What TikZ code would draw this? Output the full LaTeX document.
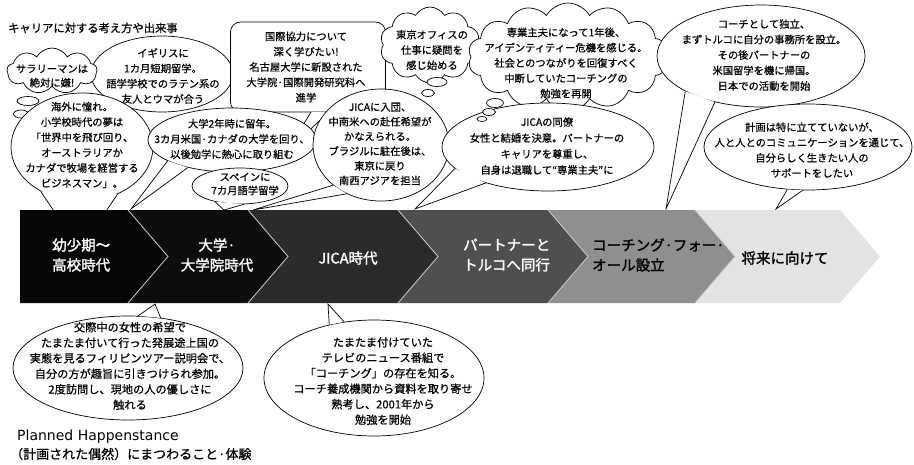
\documentclass[tikz,border=0pt]{standalone}
\usepackage{fontspec}
\setmainfont{Noto Sans CJK JP}[FakeBold=0.6]
\newfontfamily\latfont{DejaVu Sans}
\newfontfamily\erafont{Noto Sans CJK JP}[FakeBold=1.6]
\usetikzlibrary{shapes.geometric,shapes.symbols}
\newcommand\balltail[3]{\fill[white] (#1) -- (#2) -- (#3) -- cycle; \draw[tailline] (#1) -- (#2) -- (#3);}
\begin{document}
\begin{tikzpicture}[x=1pt,y=-1pt,
  bal/.style={ellipse, draw=black, fill=white, line width=0.7pt, inner sep=0pt},
  boxbal/.style={rectangle, rounded corners=10pt, draw=black, fill=white, line width=0.7pt, inner sep=0pt},
  thought/.style={cloud, cloud puffs=#1, cloud puff arc=120, cloud ignores aspect, draw=black, fill=white, line width=0.7pt, inner sep=0pt},
  bub/.style={ellipse, draw=black, fill=white, line width=0.7pt, inner sep=0pt},
  tailline/.style={draw=black, line width=0.7pt, line join=miter},
  txt/.style={align=center, inner sep=0pt, font=\fontsize{10.3}{15.3}\selectfont},
  btxt/.style={align=center, inner sep=0pt, font=\fontsize{11.2}{15.5}\selectfont},
  era/.style={inner sep=0pt, font=\erafont\fontsize{14.5}{20}\selectfont},
  sep/.style={draw=white!80!black, line width=0.8pt},
]
\useasboundingbox[fill=white] (0,0) rectangle (914,464);

\node[anchor=west, inner sep=0pt, font=\fontsize{11.3}{14}\selectfont] (head) at (8,28) {キャリアに対する考え方や出来事};

% England balloon
\node[bal, minimum width=142pt, minimum height=76pt] (igi) at (162,74) {};
\node[txt] (igit) at (163,76) {イギリスに\\1カ月短期留学。\\語学学校でのラテン系の\\友人とウマが合う};

% salaryman thought
\node[thought=9, minimum width=90pt, minimum height=46pt] (sal) at (52,71) {};
\node[txt, font=\fontsize{10.3}{14}\selectfont] (salt) at (52,76) {サラリーマンは\\絶対に嫌!};
\node[bub, minimum width=22pt, minimum height=9pt] (salb1) at (28,101) {};
\node[bub, minimum width=15pt, minimum height=8pt] (salb2) at (21,114) {};

% overseas dream
\coordinate (kaitip) at (80,250);
\node[bal, minimum width=142pt, minimum height=108pt] (kai) at (82,147) {};
\balltail{kai.227}{kaitip}{kai.307}
\node[txt] (kait) at (82,145) {海外に憧れ。\\小学校時代の夢は\\「世界中を飛び回り、\\オーストラリアか\\カナダで牧場を経営する\\ビジネスマン」。};

% international cooperation box
\node[boxbal, minimum width=155pt, minimum height=90pt] (box) at (308,67) {};
\coordinate (boxb1) at (311,112);
\coordinate (boxb2) at (329,112);
\coordinate (boxtip) at (288,150);
\balltail{boxb1}{boxtip}{boxb2}
\node[txt] (boxt) at (306,67) {国際協力について\\深く学びたい!\\名古屋大学に新設された\\大学院·国際開発研究科へ\\進学};

% university 2nd year
\coordinate (dtip) at (131,209);
\node[bal, minimum width=168pt, minimum height=64pt] (dai) at (232,140) {};
\balltail{dai.198}{dtip}{dai.212}
\node[txt] (dait) at (232,139) {大学2年時に留年。\\3カ月米国·カナダの大学を回り、\\以後勉学に熱心に取り組む};

% Spain
\coordinate (sptip) at (224,210);
\node[bal, minimum width=96pt, minimum height=36pt] (spa) at (240,186) {};
\balltail{spa.212}{sptip}{spa.282}
\node[txt, font=\fontsize{10.3}{13.5}\selectfont] (spat) at (245,184) {スペインに\\7カ月語学留学};

% JICA
\coordinate (jtip) at (253,210);
\node[bal, minimum width=136pt, minimum height=112pt] (jica) at (381,145) {};
\balltail{jica.220}{jtip}{jica.235}
\node[txt, font=\fontsize{10.3}{14.7}\selectfont] (jicat) at (380,144) {JICAに入団、\\中南米への赴任希望が\\かなえられる。\\ブラジルに駐在後は、\\東京に戻り\\南西アジアを担当};

% Tokyo office thought
\node[thought=10, minimum width=100pt, minimum height=76pt] (tok) at (430,45) {};
\node[txt] (tokt) at (432,50) {東京オフィスの\\仕事に疑問を\\感じ始める};
\node[bub, minimum width=20pt, minimum height=9pt] (tokb1) at (437,82) {};
\node[bub, minimum width=13pt, minimum height=7pt] (tokb2) at (428,93) {};

% house-husband thought
\node[thought=14, minimum width=200pt, minimum height=108pt] (sen) at (568,57) {};
\node[txt] (sent) at (566,63) {専業主夫になって1年後、\\アイデンティティー危機を感じる。\\社会とのつながりを回復すべく\\中断していたコーチングの\\勉強を再開};

% JICA colleague
\coordinate (dotip) at (415,209);
\node[bal, minimum width=212pt, minimum height=88pt] (dor) at (548,147) {};
\balltail{dor.193}{dotip}{dor.210}
\node[txt, font=\fontsize{10.3}{16}\selectfont] (dort) at (547,146) {JICAの同僚\\女性と結婚を決意。パートナーの\\キャリアを尊重し、\\自身は退職して“専業主夫”に};
\node[bub, minimum width=17pt, minimum height=9pt] (senb1) at (495,103) {};
\node[bub, minimum width=13pt, minimum height=7pt] (senb2) at (489,112) {};
\node[bub, minimum width=10pt, minimum height=5pt] (senb3) at (482,119) {};

% coach independent
\coordinate (ctip) at (666,209);
\node[bal, minimum width=208pt, minimum height=102pt] (coa) at (761,56) {};
\balltail{coa.205}{ctip}{coa.225}
\node[txt, font=\fontsize{10.3}{15.5}\selectfont] (coat) at (764,55) {コーチとして独立、\\まずトルコに自分の事務所を設立。\\その後パートナーの\\米国留学を機に帰国。\\日本での活動を開始};

% future
\coordinate (ktip) at (776,209);
\node[bal, minimum width=208pt, minimum height=86pt] (kei) at (808,147) {};
\balltail{kei.244}{ktip}{kei.263}
\node[txt] (keit) at (812,150) {計画は特に立てていないが、\\人と人とのコミュニケーションを通じて、\\自分らしく生きたい人の\\サポートをしたい};

% ---- band ----
\fill[black!98] (20,210) -- (128,210) -- (168,256.5) -- (128,303) -- (20,303) -- cycle;
\fill[black!95] (128,210) -- (248,210) -- (288,256.5) -- (248,303) -- (128,303) -- (168,256.5) -- cycle;
\fill[black!83] (248,210) -- (398,210) -- (438,256.5) -- (398,303) -- (248,303) -- (288,256.5) -- cycle;
\fill[black!69] (398,210) -- (548,210) -- (588,256.5) -- (548,303) -- (398,303) -- (438,256.5) -- cycle;
\fill[black!44] (548,210) -- (695,210) -- (735,256.5) -- (695,303) -- (548,303) -- (588,256.5) -- cycle;
\fill[black!11] (695,210) -- (840,210) -- (880,256.5) -- (840,303) -- (695,303) -- (735,256.5) -- cycle;
\draw[sep] (128,210) -- (168,256.5) -- (128,303);
\draw[sep] (248,210) -- (288,256.5) -- (248,303);
\draw[sep] (398,210) -- (438,256.5) -- (398,303);
\draw[sep] (548,210) -- (588,256.5) -- (548,303);
\draw[sep] (695,210) -- (735,256.5) -- (695,303);

\node[era, text=white, align=left, anchor=west] (e1) at (52,255) {幼少期〜\\高校時代};
\node[era, text=white, align=center] (e2) at (217,255) {大学·\\大学院時代};
\node[era, text=white] (e3) at (348,258) {JICA時代};
\node[era, text=white, align=left, anchor=west] (e4) at (463,255) {パートナーと\\トルコへ同行};
\node[era, text=black, align=left, anchor=west] (e5) at (592,255) {コーチング·フォー·\\オール設立};
\node[era, text=black] (e6) at (785,258) {将来に向けて};

% ---- bottom balloons ----
\coordinate (kotip) at (155,304);
\node[bal, minimum width=230pt, minimum height=104pt] (kou) at (128,368) {};
\balltail{kou.79}{kotip}{kou.57}
\node[btxt] (kout) at (130,366) {交際中の女性の希望で\\たまたま付いて行った発展途上国の\\実態を見るフィリピンツアー説明会で、\\自分の方が趣旨に引きつけられ参加。\\2度訪問し、現地の人の優しさに\\触れる};

\coordinate (tatip) at (328,304);
\node[bal, minimum width=220pt, minimum height=116pt] (tam) at (374,378) {};
\balltail{tam.130}{tatip}{tam.118}
\node[btxt] (tamt) at (383,381) {たまたま付けていた\\テレビのニュース番組で\\「コーチング」の存在を知る。\\コーチ養成機関から資料を取り寄せ\\熟考し、2001年から\\勉強を開始};

\node[anchor=west, inner sep=0pt, font=\latfont\fontsize{14}{15}\selectfont] (ph1) at (17,437) {Planned Happenstance};
\node[anchor=west, inner sep=0pt, font=\fontsize{13}{15}\selectfont] (ph2) at (10,454) {（計画された偶然）にまつわること·体験};
\end{tikzpicture}
\end{document}
